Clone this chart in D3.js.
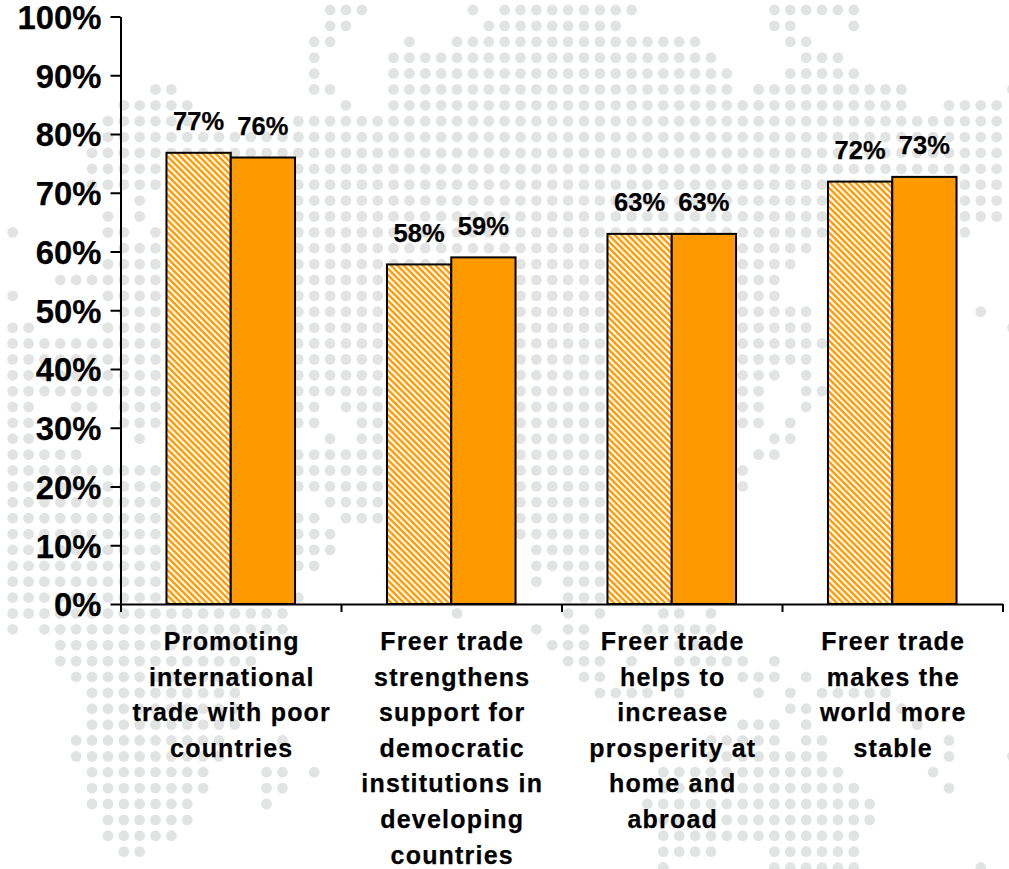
<!DOCTYPE html>
<html>
<head>
<meta charset="utf-8">
<script src="https://cdn.jsdelivr.net/npm/d3@7"></script>
<style>
html,body{margin:0;padding:0;background:#fff;}
svg{display:block;}
text{font-family:"Liberation Sans",Arial,sans-serif;font-weight:bold;fill:#000;stroke:#000;stroke-width:0.25px;}
</style>
</head>
<body>
<svg id="chart" width="1009" height="869"></svg>
<script>
const categories = ["Promoting international trade with poor countries",
  "Freer trade strengthens support for democratic institutions in developing countries",
  "Freer trade helps to increase prosperity at home and abroad",
  "Freer trade makes the world more stable"];
const categoryLines = [
  ["Promoting","international","trade with poor","countries"],
  ["Freer trade","strengthens","support for","democratic","institutions in","developing","countries"],
  ["Freer trade","helps to","increase","prosperity at","home and","abroad"],
  ["Freer trade","makes the","world more","stable"]];
const seriesNames = ["hatched","solid"];
const hatchedValues = [76.8,57.8,63,71.9];
const solidValues = [76,59,63,72.7];
const yTicks = [0,10,20,30,40,50,60,70,80,90,100];

// Decorative dot-map background: per grid row, runs of grid columns [from,to]
const mapRuns = [
 [[20,22],[29,29],[31,39],[48,53]],
 [[20,21],[30,38],[48,49],[53,53]],
 [[19,20],[25,25],[28,43],[49,50]],
 [[19,19],[24,44],[50,52]],
 [[19,19],[24,45],[49,53]],
 [[9,10],[19,20],[24,45],[47,56],[63,63]],
 [[7,11],[21,21],[24,56],[59,62]],
 [[6,11],[18,62]],
 [[6,62]],
 [[5,62]],
 [[5,62]],
 [[5,62]],
 [[8,8],[18,62]],
 [[6,6],[8,8],[18,62]],
 [[0,0],[6,7],[9,9],[18,52],[60,60]],
 [[7,9],[18,50]],
 [[6,9],[18,49]],
 [[3,9],[18,48]],
 [[0,0],[6,9],[18,48]],
 [[7,9],[18,50],[61,61]],
 [[0,1],[6,9],[18,50],[63,63]],
 [[0,9],[18,51]],
 [[0,9],[18,50]],
 [[0,9],[18,48],[50,50]],
 [[0,9],[18,47],[50,51]],
 [[0,1],[4,5],[7,9],[18,19],[21,23],[32,37],[42,47],[50,50]],
 [[0,1],[7,9],[18,19],[22,23],[32,37],[42,47],[49,49]],
 [[0,1],[8,8],[20,20],[22,23],[32,37],[48,49]],
 [[0,4],[18,23],[32,37],[47,48]],
 [[0,9],[18,23],[32,37],[46,46]],
 [[0,9],[18,23],[32,37],[46,46]],
 [[0,9],[20,23],[32,37]],
 [[0,9],[18,19],[21,23],[32,37]],
 [[0,9],[18,20],[32,37]],
 [[0,9],[18,20],[33,37]],
 [[0,9],[18,19],[33,37]],
 [[0,9],[33,33],[35,37]],
 [[0,9],[18,18],[35,37]],
 [[0,17],[28,28],[35,35],[37,37],[41,42],[44,44]],
 [[0,0],[2,17],[33,33],[35,36],[40,44]],
 [[3,15],[34,36],[42,44]],
 [[3,15],[35,37],[39,39],[42,46],[48,48]],
 [[4,14],[36,37],[46,48],[50,50]],
 [[5,14],[37,40],[42,42],[47,47],[49,49],[51,55]],
 [[5,14],[49,50],[56,56]],
 [[5,14],[46,48],[50,50],[57,57]],
 [[4,13],[17,17],[44,48],[50,51],[59,59]],
 [[4,13],[44,51],[59,59],[63,63]],
 [[5,12],[16,17],[19,19],[41,52],[58,58]],
 [[5,12],[16,17],[41,53],[59,59]],
 [[5,11],[16,16],[40,54]],
 [[6,11],[41,54]],
 [[6,10],[41,53]],
 [[7,8],[41,44],[48,53]],
 [[41,41],[48,53],[61,61]]
];

const svg = d3.select("#chart");
const plot = {left:120.5,right:1002.5,top:16.5,bottom:604};

const defs = svg.append("defs");
const pat = defs.append("pattern").attr("id","hatch").attr("patternUnits","userSpaceOnUse")
  .attr("width",4.5).attr("height",4.5).attr("patternTransform","rotate(45)");
pat.append("rect").attr("width",4.5).attr("height",4.5).attr("fill","#fff");
pat.append("rect").attr("width",4.5).attr("height",2.4).attr("fill","#ff9900");
defs.append("filter").attr("id","soft").append("feGaussianBlur").attr("stdDeviation",0.35);

// Background dots
const colX = d3.scaleLinear().domain([0,62]).range([12.7,996.6]);
const rowY = d3.scaleLinear().domain([0,54]).range([10,867.5]);
const dots = mapRuns.flatMap((runs,r)=>runs.flatMap(([a,b])=>d3.range(a,b+1).map(c=>({r,c}))));
svg.append("g").attr("filter","url(#soft)").selectAll("circle").data(dots).join("circle")
  .attr("cx",d=>colX(d.c)).attr("cy",d=>rowY(d.r)).attr("r",5.4).attr("fill","#e2e4e4");

// Scales
const x0 = d3.scaleBand().domain(categories).range([plot.left,plot.right]);
const x1 = d3.scaleBand().domain(seriesNames).range([0,x0.bandwidth()]).paddingInner(0).paddingOuter(0.715);
const y = d3.scaleLinear().domain([0,100]).range([plot.bottom,plot.top]);
const tickPos = d3.scaleLinear().domain([0,categories.length]).range([plot.left,plot.right]);

// Bars
const rows = categories.map((c,i)=>[
  {cat:c,s:"hatched",v:hatchedValues[i]},
  {cat:c,s:"solid",v:solidValues[i]}]).flat();
svg.append("g").selectAll("rect").data(rows).join("rect")
  .attr("x",d=>x0(d.cat)+x1(d.s))
  .attr("y",d=>y(d.v))
  .attr("width",x1.bandwidth())
  .attr("height",d=>y(0)-y(d.v))
  .attr("fill",d=>d.s==="hatched"?"url(#hatch)":"#ff9900")
  .attr("stroke","#000").attr("stroke-width",2);

// Value labels
svg.append("g").selectAll("text").data(rows).join("text")
  .attr("x",d=>x0(d.cat)+x1(d.s)+x1.bandwidth()/2)
  .attr("y",d=>y(d.v)-22.5)
  .attr("text-anchor","middle").attr("font-size",25.5)
  .text(d=>Math.round(d.v)+"%");

// Axes
const yAxis = d3.axisLeft(y).tickValues(yTicks).tickFormat(d=>d+"%").tickSize(10).tickSizeOuter(0).tickPadding(9);
const gy = svg.append("g").attr("transform",`translate(${plot.left},0)`).call(yAxis);
gy.selectAll("text").attr("font-size",32.8).attr("dy","0.36em").attr("fill","#000").style("font-family",'"Liberation Sans",Arial,sans-serif').style("font-weight","bold");
const xAxis = d3.axisBottom(tickPos).ticks(categories.length).tickFormat("").tickSize(8).tickSizeOuter(0);
const gx = svg.append("g").attr("transform",`translate(0,${plot.bottom})`).call(xAxis);
svg.selectAll(".domain,.tick line").attr("stroke","#000").attr("stroke-width",2);

// Category labels
const lab = svg.append("g").selectAll("text").data(categories).join("text")
  .attr("text-anchor","middle").attr("font-size",25).style("letter-spacing","1.2px");
lab.selectAll("tspan").data((d,i)=>categoryLines[i].map(t=>({t,cat:d}))).join("tspan")
  .attr("x",d=>x0(d.cat)+x0.bandwidth()/2+1)
  .attr("y",(d,i)=>650+i*35.6)
  .text(d=>d.t);
</script>
</body>
</html>
